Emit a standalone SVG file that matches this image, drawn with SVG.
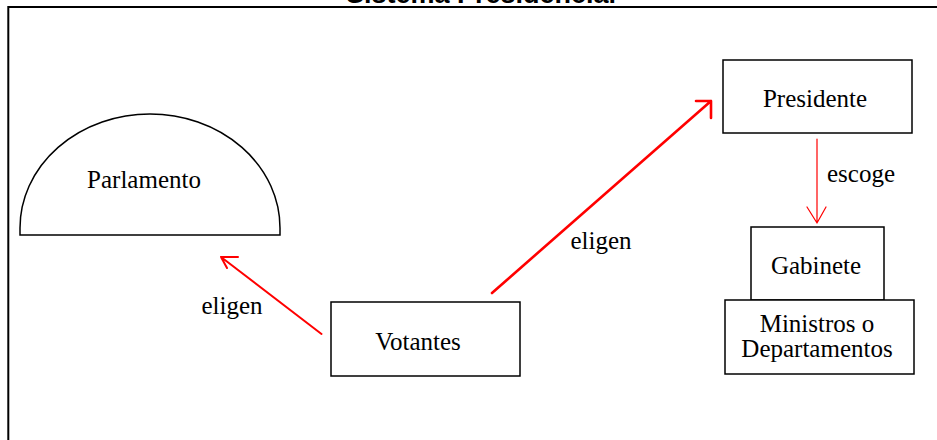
<svg xmlns="http://www.w3.org/2000/svg" width="937" height="440" viewBox="0 0 937 440">
<style>
.box{fill:#fff;stroke:#000;stroke-width:1.5}
.lbl{font-family:"Liberation Serif","Times New Roman",serif;font-size:25px;fill:#000;text-anchor:middle}
.title{font-family:"Liberation Sans",Arial,sans-serif;font-weight:bold;font-size:27px;fill:#000;text-anchor:middle}
.red{fill:none;stroke:#ff0000;stroke-linecap:round;stroke-linejoin:round}
</style>
<rect width="937" height="440" fill="#fff"/>
<g id="frame">
<text class="title" x="481" y="3">Sistema Presidencial</text>
<path d="M8.3 440 V7 H937" fill="none" stroke="#000" stroke-width="2"/>
</g>
<g id="parlamento">
<path class="box" d="M20 235 V228 A130 114 0 0 1 280 228 V235 Z"/>
<text class="lbl" x="144" y="188">Parlamento</text>
</g>
<g id="votantes">
<rect class="box" x="331" y="302" width="189" height="74"/>
<text class="lbl" x="418" y="350">Votantes</text>
</g>
<g id="presidente">
<rect class="box" x="723" y="60" width="189" height="73"/>
<text class="lbl" x="815" y="107">Presidente</text>
</g>
<g id="gabinete">
<rect class="box" x="751" y="227" width="133" height="73"/>
<text class="lbl" x="816" y="274">Gabinete</text>
</g>
<g id="ministros">
<rect class="box" x="725" y="300" width="189" height="74"/>
<text class="lbl" x="817" y="332">Ministros o</text>
<text class="lbl" x="817" y="357">Departamentos</text>
</g>
<g id="connectors">
<path class="red" stroke-width="2" d="M321.5 334 L221 257 M221 257 H238 M221 257 L227 268"/>
<path class="red" stroke-width="2.6" d="M492 293 L711 101 M711 101 H696 M711 101 V118"/>
<path class="red" stroke-width="1.2" d="M817 139 V223 M807 207 L817 223 L826 207"/>
<text class="lbl" x="232" y="314">eligen</text>
<text class="lbl" x="601" y="249">eligen</text>
<text class="lbl" x="861" y="182">escoge</text>
</g>
</svg>
